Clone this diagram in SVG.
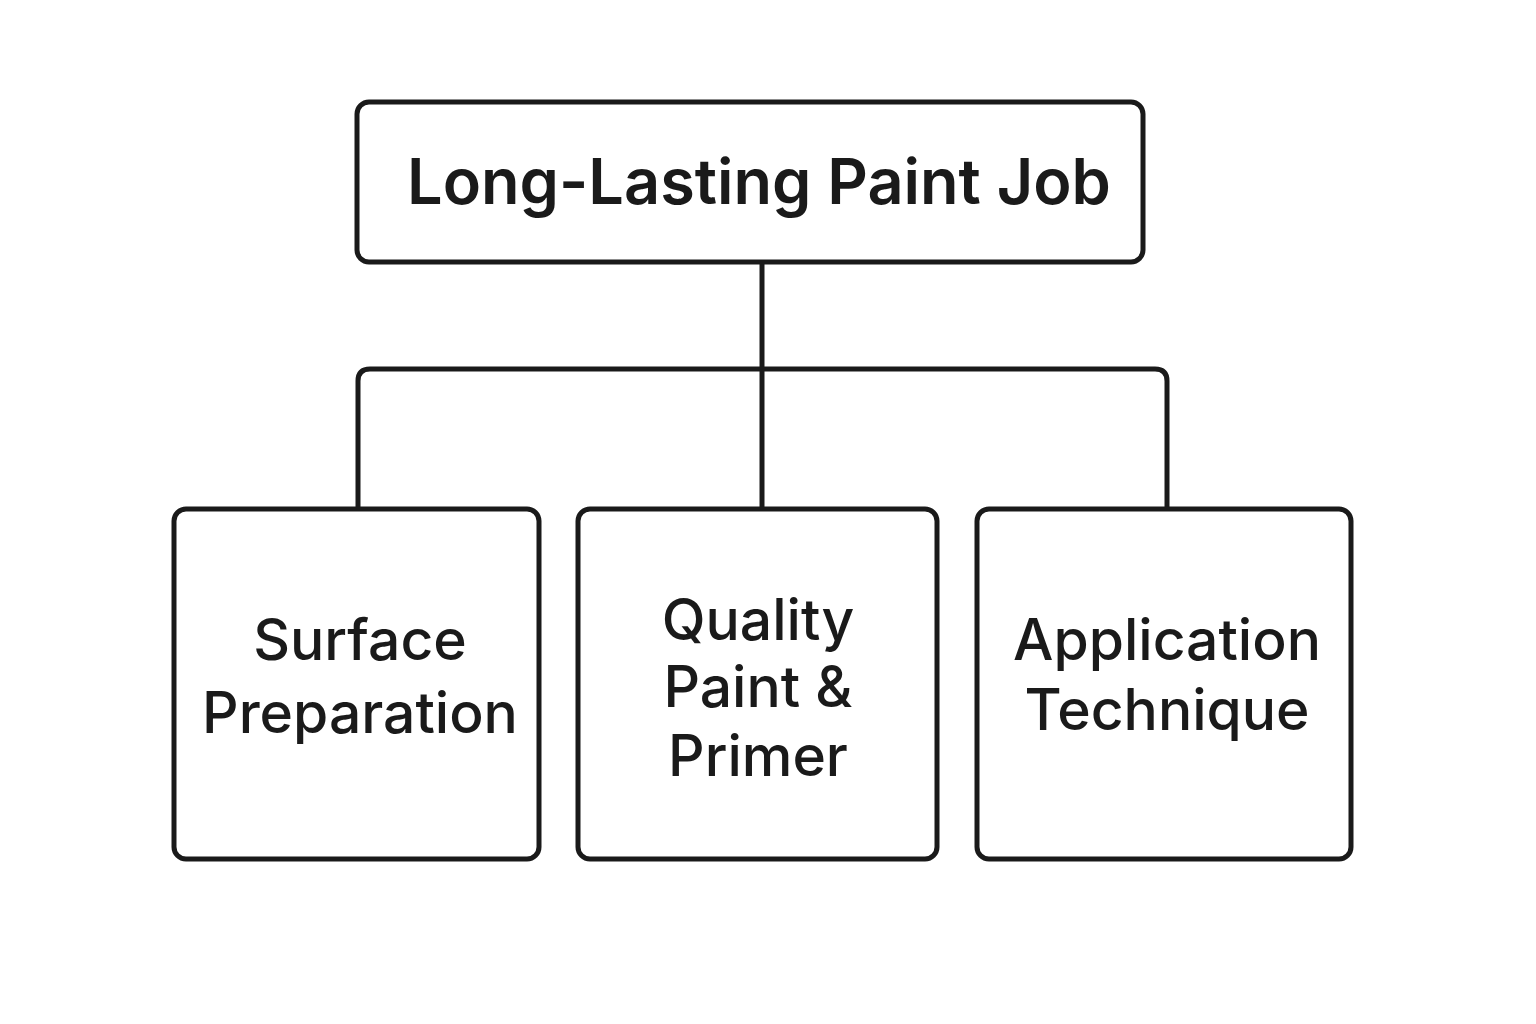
<svg xmlns="http://www.w3.org/2000/svg" width="1536" height="1024" viewBox="0 0 1536 1024">
  <style>
    .box { fill: #ffffff; stroke: #1a1a1a; stroke-width: 5; }
    .wire { fill: none; stroke: #1a1a1a; stroke-width: 5; stroke-linejoin: round; }
    .title { font-family: Inter, "Liberation Sans", sans-serif; font-weight: 600; font-size: 63px; fill: #1a1a1a; text-anchor: middle; }
    .label { font-family: Inter, "Liberation Sans", sans-serif; font-weight: 500; font-size: 57px; fill: #1a1a1a; text-anchor: middle; }
  </style>
  <rect width="1536" height="1024" fill="#ffffff"/>

  <!-- connectors -->
  <g id="connectors">
    <path class="wire" d="M762 263 V508"/>
    <path class="wire" d="M358 508 V381 Q358 369 370 369 H1155 Q1167 369 1167 381 V508"/>
  </g>

  <!-- root -->
  <g id="root">
    <rect class="box" x="357" y="102" width="786" height="160" rx="12"/>
    <text class="title" x="759" y="204">Long-Lasting Paint Job</text>
  </g>

  <!-- children -->
  <g id="surface">
    <rect class="box" x="174" y="509" width="365" height="350" rx="12"/>
    <text class="label" x="360" y="660">Surface</text>
    <text class="label" x="360" y="733">Preparation</text>
  </g>

  <g id="paint">
    <rect class="box" x="578" y="509" width="359" height="350" rx="12"/>
    <text class="label" x="758" y="640">Quality</text>
    <text class="label" x="758" y="707">Paint &amp;</text>
    <text class="label" x="758" y="776">Primer</text>
  </g>

  <g id="technique">
    <rect class="box" x="977" y="509" width="374" height="350" rx="12"/>
    <text class="label" x="1167" y="660">Application</text>
    <text class="label" x="1167" y="730">Technique</text>
  </g>
</svg>
